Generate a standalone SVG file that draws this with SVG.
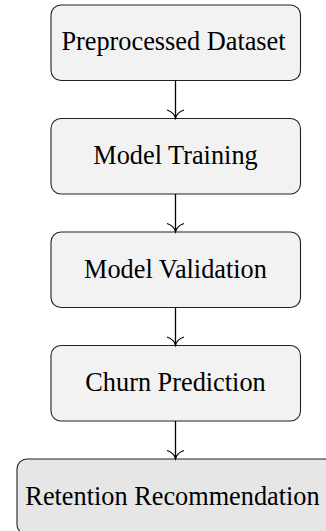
<svg xmlns="http://www.w3.org/2000/svg" width="326" height="531" viewBox="0 0 326 531">
<style>
.box{fill:#f2f2f2;stroke:#222;stroke-width:1.1}
.box5{fill:#e6e6e6;stroke:#222;stroke-width:1.1}
.lbl{font-family:"Liberation Serif","Times New Roman",serif;font-size:26.3px;fill:#000;text-anchor:middle}
.edge{fill:none;stroke:#000;stroke-width:1.3}
</style>
<rect width="326" height="531" fill="#fff"/>
<g id="n1"><rect class="box" x="51" y="5" width="249.5" height="75.5" rx="10"/><text class="lbl" x="173.5" y="50">Preprocessed Dataset</text></g>
<g id="n2"><rect class="box" x="51" y="118.5" width="249.5" height="75.5" rx="10"/><text class="lbl" x="175.5" y="163.5">Model Training</text></g>
<g id="n3"><rect class="box" x="51" y="232" width="249.5" height="75.5" rx="10"/><text class="lbl" x="175.5" y="278">Model Validation</text></g>
<g id="n4"><rect class="box" x="51" y="345.5" width="249.5" height="75.5" rx="10"/><text class="lbl" x="175.5" y="391">Churn Prediction</text></g>
<g id="n5"><rect class="box5" x="17" y="459" width="317" height="75.5" rx="10"/><text class="lbl" x="172.5" y="504.5">Retention Recommendation</text></g>
<g id="edges">
<path class="edge" d="M175.5,80.5V118"/><path class="edge" d="M167,110 Q174,112.5 175.5,118 Q177,112.5 184,110"/>
<path class="edge" d="M175.5,194V231.5"/><path class="edge" d="M167,223.5 Q174,226 175.5,231.5 Q177,226 184,223.5"/>
<path class="edge" d="M175.5,307.5V345"/><path class="edge" d="M167,337 Q174,339.5 175.5,345 Q177,339.5 184,337"/>
<path class="edge" d="M175.5,421V458.5"/><path class="edge" d="M167,450.5 Q174,453 175.5,458.5 Q177,453 184,450.5"/>
</g>
</svg>
